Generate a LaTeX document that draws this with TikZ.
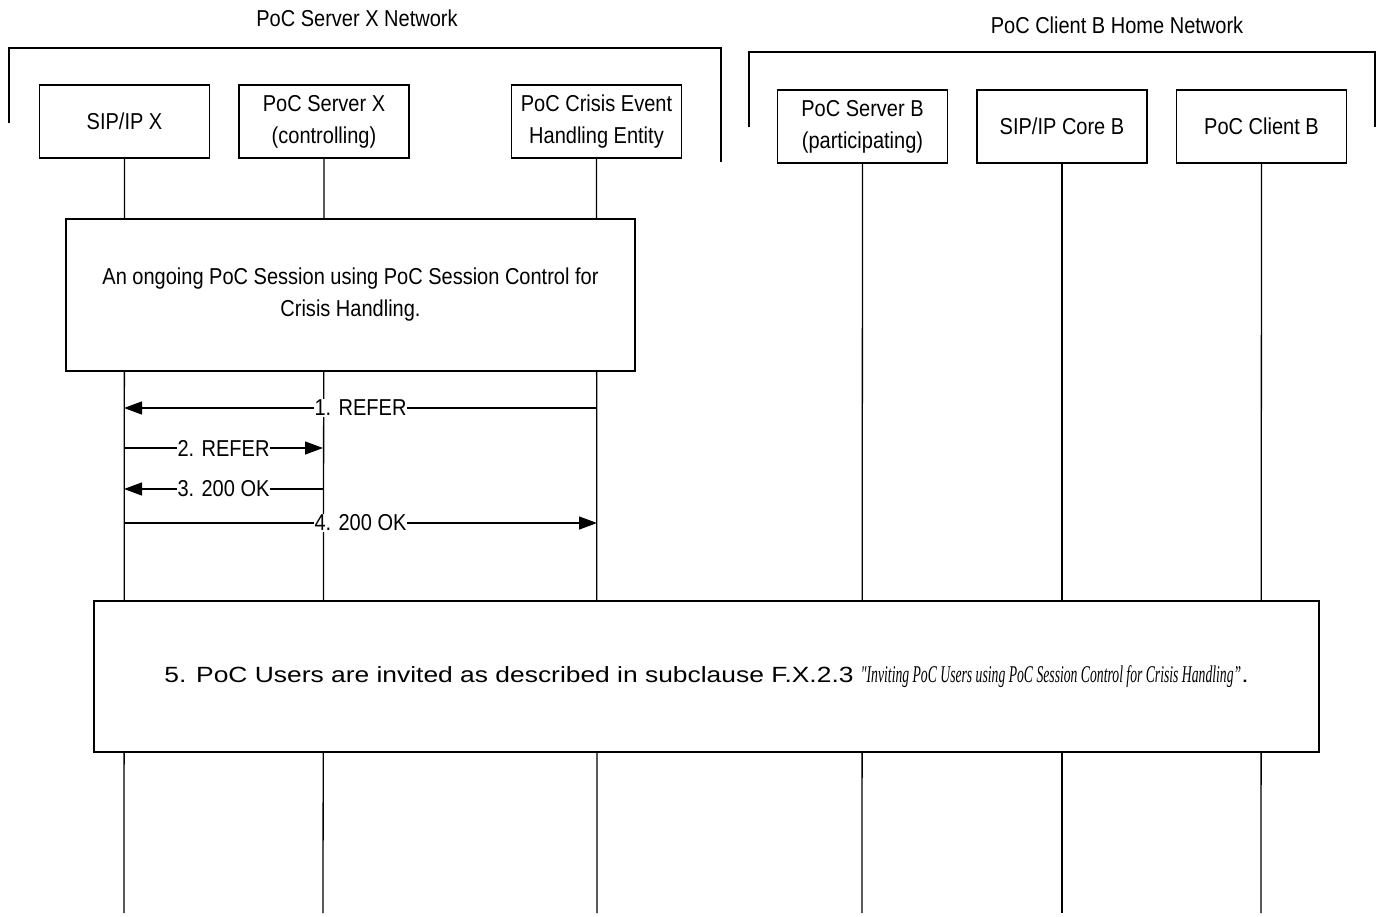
\documentclass[tikz,border=0pt]{standalone}
\usepackage{fontspec}
\setmainfont{Liberation Sans}[FakeStretch=0.87]
\newfontfamily\widesans{Liberation Sans}[FakeStretch=1.2]
\newfontfamily\serifit{Liberation Serif Italic}[FakeStretch=0.57]
\usetikzlibrary{arrows.meta}
\begin{document}
\begin{tikzpicture}[x=1pt,y=-1pt,line width=1.3pt,
  ent/.style={draw,fill=white,minimum width=170pt,minimum height=73pt,inner sep=0pt,align=center,font=\fontsize{23}{32}\selectfont},
  note/.style={draw,fill=white,inner sep=0pt,align=center,font=\fontsize{23}{32}\selectfont},
  lbl/.style={fill=white,inner sep=1pt,font=\fontsize{23}{26}\selectfont},
  title/.style={font=\fontsize{23}{26}\selectfont},
  msg/.style={-{Triangle[length=18pt,width=13pt]}},
  life/.style={line width=1.3pt},
  bracket/.style={line width=1.3pt}]
\useasboundingbox (0,0) rectangle (1379,916);
% network titles and brackets
\node[title] (tx) at (357,18) {PoC Server X Network};
\node[title] (tb) at (1117,25) {PoC Client B Home Network};
\draw[bracket] (9,123) -- (9,48) -- (721,48) -- (721,162);
\draw[bracket] (749,127) -- (749,52) -- (1375,52) -- (1375,127);
% lifeline ends
\coordinate (e1) at (124,913);
\coordinate (e2) at (323,913);
\coordinate (e3) at (597,913);
\coordinate (e4) at (862,913);
\coordinate (e5) at (1062,913);
\coordinate (e6) at (1261,913);
% entities
\node[ent] (sipx) at (124.5,121.5) {SIP/IP X};
\node[ent] (srvx) at (324,121.5) {PoC Server X\\(controlling)};
\node[ent] (crisis) at (596.5,121.5) {PoC Crisis Event\\Handling Entity};
\node[ent] (srvb) at (862.5,126.5) {PoC Server B\\(participating)};
\node[ent] (sipb) at (1062,126.5) {SIP/IP Core B};
\node[ent] (clib) at (1261.5,126.5) {PoC Client B};
\foreach \a/\b in {sipx/e1,srvx/e2,crisis/e3,srvb/e4,sipb/e5,clib/e6}
  \draw[life] (\a.south) -- (\b);
% note boxes
\node[note,minimum width=569pt,minimum height=152pt] (ongoing) at (350.5,295)
  {An ongoing PoC Session using PoC Session Control for\\Crisis Handling.};
\node[note,minimum width=1225pt,minimum height=151pt,font=\fontsize{22}{24}\selectfont] (invite) at (706.5,676.5)
  {\widesans 5. PoC Users are invited as described in subclause F.X.2.3 {\serifit\fontsize{24}{24}\selectfont"Inviting PoC Users using PoC Session Control for Crisis Handling”}.};
% message endpoints
\coordinate (m1a) at (597,408); \coordinate (m1b) at (124,408);
\coordinate (m2a) at (124,448); \coordinate (m2b) at (323,448);
\coordinate (m3a) at (323,489); \coordinate (m3b) at (124,489);
\coordinate (m4a) at (124,523); \coordinate (m4b) at (597,523);
\draw[msg] (m1a) -- node[lbl] (l1) {1. REFER} (m1b);
\draw[msg] (m2a) -- node[lbl] (l2) {2. REFER} (m2b);
\draw[msg] (m3a) -- node[lbl] (l3) {3. 200 OK} (m3b);
\draw[msg] (m4a) -- node[lbl] (l4) {4. 200 OK} (m4b);
\end{tikzpicture}
\end{document}
